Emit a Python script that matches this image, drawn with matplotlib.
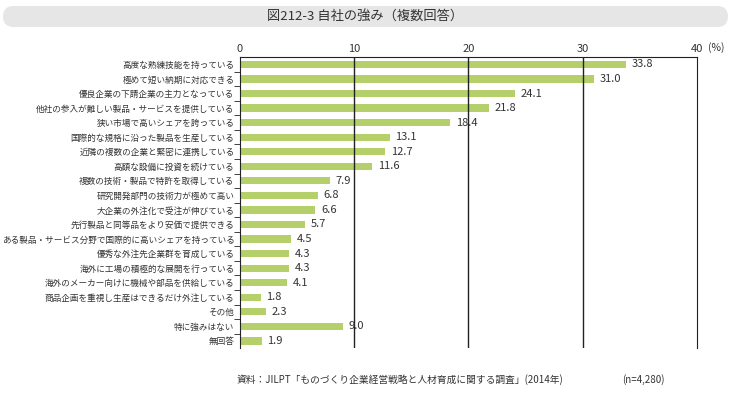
import matplotlib.pyplot as plt
from matplotlib.patches import FancyBboxPatch

plt.rcParams['font.family'] = ['Noto Sans CJK JP', 'DejaVu Sans']

categories = ['高度な熟練技能を持っている', '極めて短い納期に対応できる', '優良企業の下請企業の主力となっている',
              '他社の参入が難しい製品・サービスを提供している', '狭い市場で高いシェアを誇っている',
              '国際的な規格に沿った製品を生産している', '近隣の複数の企業と緊密に連携している',
              '高額な設備に投資を続けている', '複数の技術・製品で特許を取得している',
              '研究開発部門の技術力が極めて高い', '大企業の外注化で受注が伸びている',
              '先行製品と同等品をより安価で提供できる', 'ある製品・サービス分野で国際的に高いシェアを持っている',
              '優秀な外注先企業群を育成している', '海外に工場の積極的な展開を行っている',
              '海外のメーカー向けに機械や部品を供給している', '商品企画を重視し生産はできるだけ外注している',
              'その他', '特に強みはない', '無回答']
values = [33.8, 31.0, 24.1, 21.8, 18.4, 13.1, 12.7, 11.6, 7.9, 6.8, 6.6, 5.7, 4.5, 4.3, 4.3, 4.1, 1.8, 2.3, 9.0, 1.9]
xticks = [0, 10, 20, 30, 40]

fig = plt.figure(figsize=(7.5, 3.97), dpi=100)

# title pill (inches)
pill = FancyBboxPatch((0.03, 3.70), 7.25, 0.21, boxstyle='round,pad=0,rounding_size=0.105',
                      transform=fig.dpi_scale_trans, facecolor='#e6e6e6', edgecolor='none')
fig.patches.append(pill)
fig.text(0.487, 0.958, '図212-3 自社の強み（複数回答）', ha='center', va='center', fontsize=9.5, color='#333333')

ax = fig.add_axes([0.32, 0.123, 0.609, 0.733])
n = len(categories)
ypos = list(range(n))
ax.barh(ypos, values, height=0.5, color='#b5cf6b', zorder=1)
for y, v in zip(ypos, values):
    ax.text(v + 0.5, y, f'{v:.1f}', va='center', ha='left', fontsize=8, color='#333333')

ax.set_xlim(0, 40)
ax.set_ylim(n - 0.5, -0.5)
ax.xaxis.tick_top()
ax.set_xticks(xticks)
ax.set_xticklabels([str(t) for t in xticks], fontsize=8, color='#333333')
ax.tick_params(axis='x', length=0, pad=2)
for t in xticks[1:4]:
    ax.axvline(t, color='#222222', lw=1, zorder=2)

ax.set_yticks(ypos)
ax.set_yticklabels(categories, fontsize=6.2, color='#333333')
ax.set_yticks([y + 0.5 for y in ypos[:-1]], minor=True)
ax.tick_params(axis='y', which='major', length=0, pad=4)
ax.tick_params(axis='y', which='minor', length=4, direction='out', color='#222222')

for s in ['top', 'left', 'right']:
    ax.spines[s].set_color('#222222')
ax.spines['bottom'].set_visible(False)

fig.text(0.944, 0.881, '(%)', fontsize=7.5, ha='left', va='center', color='#333333')

fig.text(0.315, 0.036, '資料：JILPT「ものづくり企業経営戦略と人材育成に関する調査」(2014年)', fontsize=7, color='#333333')
fig.text(0.83, 0.036, '(n=4,280)', fontsize=7, color='#333333')

fig.savefig('out.png', dpi=100)
